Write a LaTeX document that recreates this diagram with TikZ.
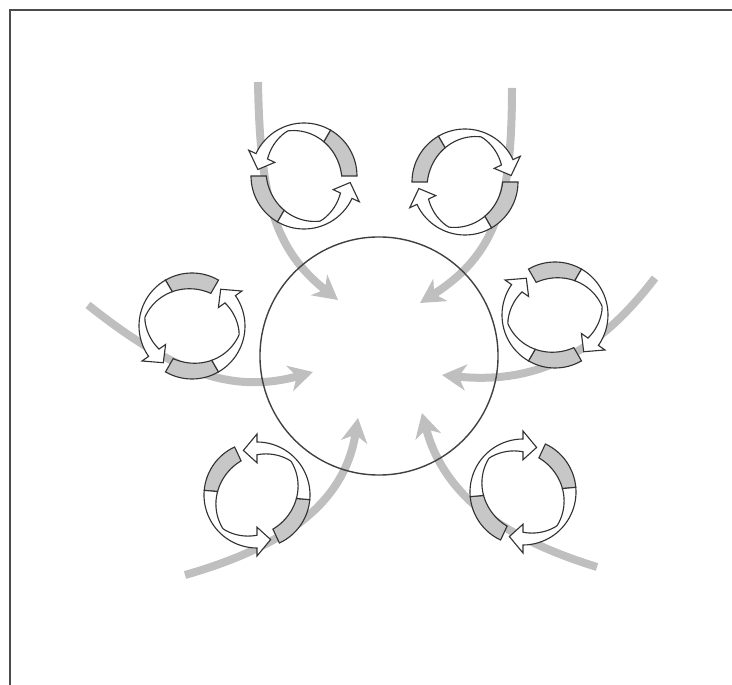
\documentclass[tikz,border=0pt]{standalone}
\usetikzlibrary{arrows.meta}
\tikzset{
  flow/.style={line width=0.2cm, black!25, -{Stealth[length=0.6cm,width=0.65cm,inset=0.18cm]}},
  tailpart/.style={fill=black!22, draw=black!80, line width=0.8pt},
  bodypart/.style={fill=white, draw=black!80, line width=0.8pt},
}
\begin{document}
\begin{tikzpicture}[x=0.025cm,y=0.025cm]
\useasboundingbox (0,0) rectangle (732,685);
% frame
\draw[black!70, line width=2pt] (10,0) -- (10,675) -- (732,675);
% flows into the core
\coordinate (src1) at (258,603); \coordinate (tip1) at (338,385);
\coordinate (src2) at (512,597); \coordinate (tip2) at (420,382);
\coordinate (src3) at (88,380);  \coordinate (tip3) at (313,313);
\coordinate (src4) at (655,407); \coordinate (tip4) at (442,310);
\coordinate (src5) at (185,110); \coordinate (tip5) at (358,267);
\coordinate (src6) at (597,118); \coordinate (tip6) at (422,272);
\draw[flow] (src1) .. controls (260,485) and (275,435) .. (tip1);
\draw[flow] (src2) .. controls (512,480) and (495,430) .. (tip2);
\draw[flow] (src3) .. controls (170,315) and (230,290) .. (tip3);
\draw[flow] (src4) .. controls (600,335) and (540,300) .. (tip4);
\draw[flow] (src5) .. controls (290,140) and (345,185) .. (tip5);
\draw[flow] (src6) .. controls (510,145) and (445,185) .. (tip6);
% rings: centre x/y, angle where the tail starts, turn (1 ccw, -1 cw)
% band is widest across the tails, thin where it turns away
\foreach \cx/\cy/\a/\d in {304/509/0/1,465/503/180/-1,192/359/60/1,555/370/120/-1,257/190/115/1,523/193/65/-1}{
  \begin{scope}[shift={(\cx,\cy)}]
  \pgfmathsetmacro\p{\a+20*\d}
  \foreach \k in {0,180}{
    \pgfmathsetmacro\s{\a+\k}
    \pgfmathsetmacro\g{\s+60*\d}
    \pgfmathsetmacro\e{\s+155*\d}
    \pgfmathsetmacro\t{\s+172*\d}
    \pgfmathsetmacro\ri{48-11*abs(cos(\e-\p))}
    \pgfmathsetmacro\rm{(53+\ri)/2}
    \pgfmathsetmacro\rh{\ri-8}
    \draw[tailpart] (\s:53) arc[start angle=\s,end angle=\g,radius=53]
      -- plot[domain=\g:\s,samples=16] (\x:{48-11*abs(cos(\x-\p))}) -- cycle;
    \draw[bodypart] (\g:53) arc[start angle=\g,end angle=\e,radius=53] -- (\e:61) -- (\t:\rm) -- (\e:\rh) -- (\e:\ri)
      -- plot[domain=\e:\g,samples=24] (\x:{48-11*abs(cos(\x-\p))}) -- cycle;
  }
  \end{scope}}
\node[draw=black!75, line width=1pt, circle, minimum size=5.95cm, inner sep=0pt] (core) at (379,329) {};
\end{tikzpicture}
\end{document}
